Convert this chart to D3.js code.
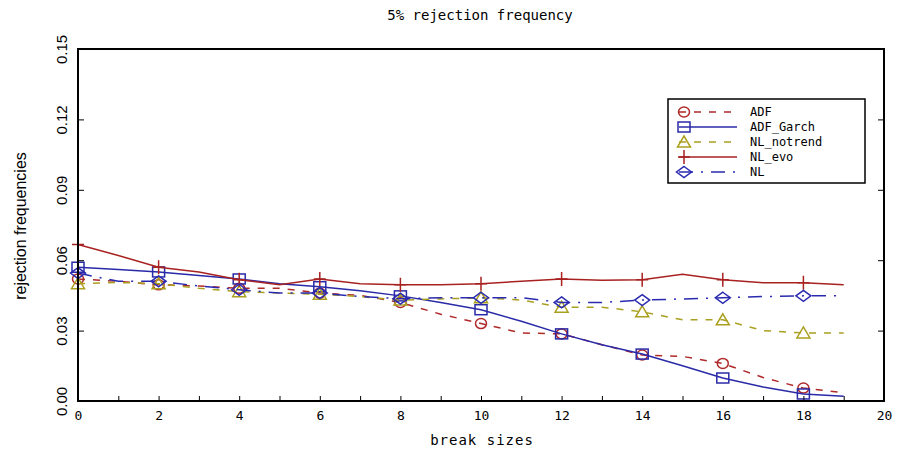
<!DOCTYPE html>
<html><head><meta charset="utf-8">
<script src="https://cdn.jsdelivr.net/npm/d3@7"></script>
<style>body{margin:0;background:#fff}svg{display:block}text{font-family:"DejaVu Sans Mono","Liberation Mono",monospace;fill:#000}</style>
</head><body>
<script>
const breakSizes = [0,1,2,3,4,5,6,7,8,9,10,11,12,13,14,15,16,17,18,19];
const adf       = [0.052,0.051,0.0495,0.049,0.048,0.048,0.046,0.045,0.042,0.037,0.033,0.029,0.0286,0.024,0.0196,0.019,0.016,0.010,0.0055,0.0035];
const adfGarch  = [0.057,0.056,0.055,0.0535,0.052,0.050,0.0487,0.047,0.0448,0.042,0.0389,0.034,0.0286,0.024,0.020,0.015,0.0098,0.006,0.003,0.002];
const nlNotrend = [0.050,0.0505,0.050,0.048,0.0466,0.046,0.0455,0.0445,0.043,0.0435,0.044,0.043,0.040,0.040,0.038,0.0346,0.0346,0.030,0.029,0.029];
const nlEvo     = [0.0667,0.062,0.057,0.055,0.0517,0.0495,0.052,0.050,0.0495,0.0495,0.050,0.051,0.052,0.0515,0.0517,0.054,0.0517,0.0504,0.0504,0.0495];
const nl        = [0.0545,0.051,0.051,0.049,0.0474,0.046,0.046,0.0445,0.0436,0.044,0.044,0.044,0.042,0.042,0.043,0.0435,0.044,0.0445,0.0448,0.0448];
const xTicks = [0,2,4,6,8,10,12,14,16,18,20];
const yTicks = [0,0.03,0.06,0.09,0.12,0.15];
const seriesNames = ["ADF","ADF_Garch","NL_notrend","NL_evo","NL"];

const W=897,H=451;
const svg=d3.select("body").append("svg").attr("width",W).attr("height",H);
const L=78,R=884,T=49,B=401;
const x=d3.scaleLinear().domain([0,20]).range([L,R]);
const y=d3.scaleLinear().domain([0,0.15]).range([B,T]);

const series=[
 {name:seriesNames[0],v:adf,color:"#b02a2a",dash:"7,8",marker:"circle"},
 {name:seriesNames[1],v:adfGarch,color:"#2a2aa8",dash:null,marker:"square"},
 {name:seriesNames[2],v:nlNotrend,color:"#aaa020",dash:"7,8",marker:"triangle"},
 {name:seriesNames[3],v:nlEvo,color:"#a82222",dash:null,marker:"plus"},
 {name:seriesNames[4],v:nl,color:"#2a2ab0",dash:"14,8,2,8",marker:"diamond"}
];

function drawMarker(g,type,cx,cy,color){
  const s=g.append("g").attr("transform",`translate(${cx},${cy})`);
  const st={fill:"none",stroke:color,"stroke-width":1.5};
  let el;
  if(type==="circle") el=s.append("ellipse").attr("rx",5.5).attr("ry",5);
  else if(type==="square") el=s.append("rect").attr("x",-6).attr("y",-5).attr("width",12).attr("height",10);
  else if(type==="triangle") el=s.append("path").attr("d","M0,-6L6.5,5L-6.5,5Z");
  else if(type==="diamond") el=s.append("path").attr("d","M0,-5.5L7.5,0L0,5.5L-7.5,0Z");
  else if(type==="plus") el=s.append("path").attr("d","M-6,0H6M0,-7V7");
  for(const k in st) el.attr(k,st[k]);
}

const line=d3.line().x((d,i)=>x(breakSizes[i])).y(d=>y(d));
const plot=svg.append("g");
series.forEach(s=>{
  plot.append("path").datum(s.v).attr("d",line).attr("fill","none")
   .attr("stroke",s.color).attr("stroke-width",1.5).attr("stroke-dasharray",s.dash);
  s.v.forEach((d,i)=>{ if(breakSizes[i]%2===0) drawMarker(plot,s.marker,x(breakSizes[i]),y(d),s.color); });
});

// frame
svg.append("rect").attr("x",L).attr("y",T).attr("width",R-L).attr("height",B-T)
 .attr("fill","none").attr("stroke","#000").attr("stroke-width",2);

// x axis ticks (inward)
const xa=svg.append("g").attr("transform",`translate(0,${B})`)
 .call(d3.axisBottom(x).tickValues(d3.range(0,21,1)).tickSize(-5).tickFormat(d=>xTicks.includes(d)?d:""));
xa.select(".domain").remove();
xa.selectAll("line").attr("stroke","#000");
xa.selectAll("text").attr("dy","0").attr("y",19).attr("font-size",13);
// y axis ticks
const ya=svg.append("g").attr("transform",`translate(${L},0)`)
 .call(d3.axisLeft(y).tickValues(yTicks).tickSize(-6).tickFormat(d3.format(".2f")));
ya.select(".domain").remove();
ya.selectAll("line").attr("stroke","#000");
ya.selectAll("text").attr("x",0).attr("dy",0).attr("text-anchor","middle")
 .attr("transform","translate(-11,0) rotate(-90)")
 .style("font-family","'Liberation Sans Narrow','Liberation Sans',sans-serif")
 .attr("font-size",15);
// right ticks
const ra=svg.append("g").attr("transform",`translate(${R},0)`)
 .call(d3.axisRight(y).tickValues(yTicks).tickSize(-6).tickFormat(""));
ra.select(".domain").remove();
ra.selectAll("line").attr("stroke","#000");

svg.append("text").attr("x",480).attr("y",20).attr("text-anchor","middle").attr("font-size",14).text("5% rejection frequency");
svg.append("text").attr("x",482).attr("y",445).attr("text-anchor","middle").attr("font-size",14).attr("letter-spacing",1).text("break sizes");
svg.append("text").attr("transform","translate(26,226) rotate(-90)").attr("text-anchor","middle")
 .style("font-family","'Liberation Sans Narrow','Liberation Sans',sans-serif").attr("font-size",16).text("rejection frequencies");

// legend
const lg=svg.append("g");
lg.append("rect").attr("x",668).attr("y",99).attr("width",197).attr("height",84).attr("fill","#fff").attr("stroke","#000").attr("stroke-width",1.5);
series.forEach((s,i)=>{
  const yy=112+i*15;
  lg.append("line").attr("x1",679).attr("x2",737).attr("y1",yy).attr("y2",yy).attr("stroke",s.color).attr("stroke-width",1.5).attr("stroke-dasharray",s.dash);
  drawMarker(lg,s.marker,684,yy,s.color);
  lg.append("text").attr("x",750).attr("y",yy+4).attr("font-size",12).text(s.name);
});
</script>
</body></html>
